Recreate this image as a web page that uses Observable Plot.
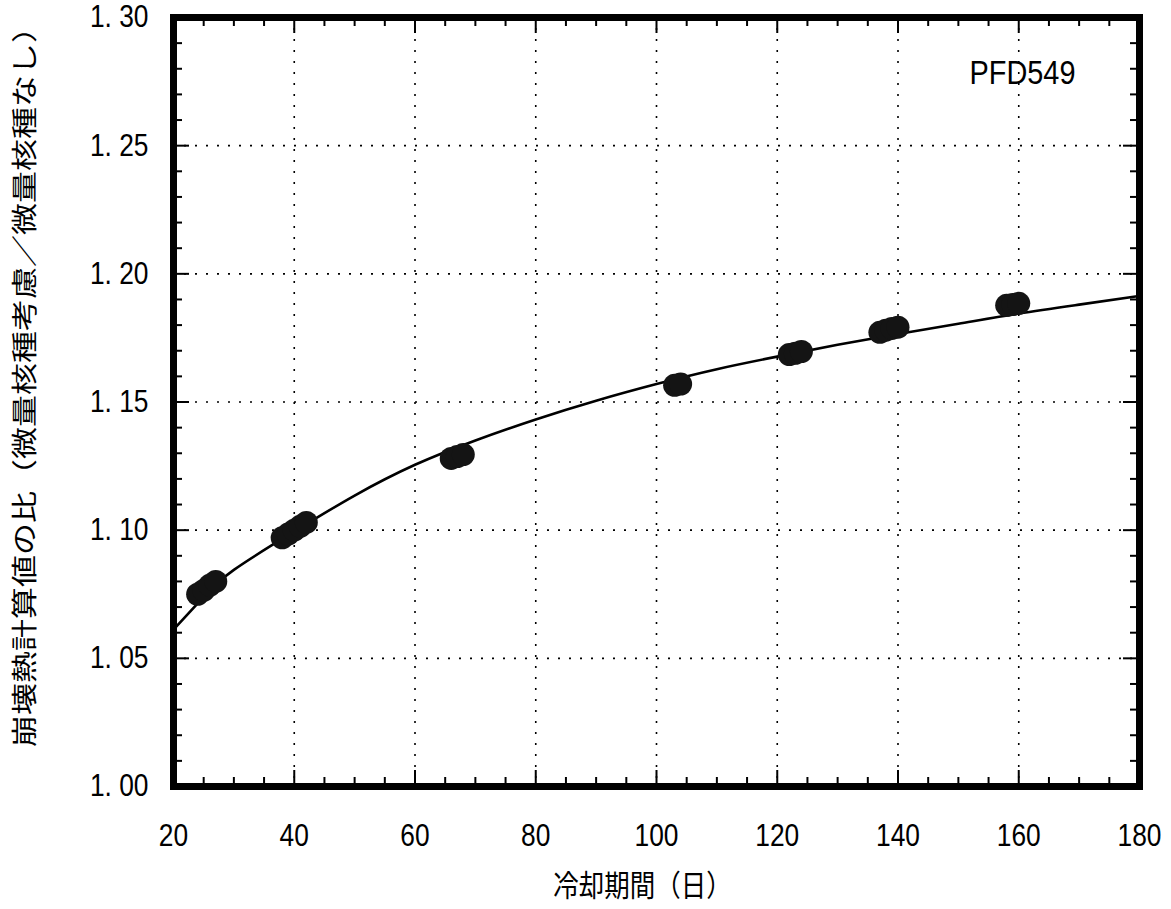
<!DOCTYPE html>
<html><head><meta charset="utf-8">
<script src="https://cdn.jsdelivr.net/npm/d3@7"></script>
<script src="https://cdn.jsdelivr.net/npm/@observablehq/plot@0.6"></script>
<style>body{margin:0;background:#fff}</style>
</head><body><div id="chart"></div>
<script>
const xTicks = [20, 40, 60, 80, 100, 120, 140, 160, 180];
const xGrid = [40, 60, 80, 100, 120, 140, 160];
const xMinor = [25, 30, 35, 45, 50, 55, 65, 70, 75, 85, 90, 95, 105, 110, 115, 125, 130, 135, 145, 150, 155, 165, 170, 175];
const yTicks = [1.00, 1.05, 1.10, 1.15, 1.20, 1.25, 1.30];
const yGrid = [1.05, 1.10, 1.15, 1.20, 1.25];
const yMinor = [1.01, 1.02, 1.03, 1.04, 1.06, 1.07, 1.08, 1.09, 1.11, 1.12, 1.13, 1.14, 1.16, 1.17, 1.18, 1.19, 1.21, 1.22, 1.23, 1.24, 1.26, 1.27, 1.28, 1.29];

const curveX = [20, 25, 30, 40, 50, 60, 70, 80, 90, 100, 110, 120, 130, 140, 150, 160, 170, 180];
const curveY = [1.0612, 1.0740, 1.0845, 1.0995, 1.1135, 1.1255, 1.1350, 1.1432, 1.1505, 1.1570, 1.1628, 1.1677, 1.1723, 1.1765, 1.1805, 1.1845, 1.1880, 1.1914];

const pointX = [24, 25, 26, 27, 38, 39, 40, 41, 42, 66, 67, 68, 103, 104, 122, 123, 124, 137, 138, 139, 140, 158, 159, 160];
const pointY = [1.0750, 1.0765, 1.0785, 1.0800, 1.0970, 1.0985, 1.1000, 1.1015, 1.1030, 1.1280, 1.1287, 1.1295, 1.1565, 1.1570, 1.1685, 1.1690, 1.1697, 1.1772, 1.1780, 1.1787, 1.1792, 1.1877, 1.1880, 1.1885];

const xLabel = "冷却期間（日）";
const yLabel = "崩壊熱計算値の比（微量核種考慮／微量核種なし）";
const seriesLabel = "PFD549";

const curve = curveX.map((x, i) => ({x, y: curveY[i]}));
const points = pointX.map((x, i) => ({x, y: pointY[i]}));

const W = 1171, H = 909, mL = 173, mR = 32, mT = 17, mB = 123;
const innerW = W - mL - mR, innerH = H - mT - mB;
const minorLen = 9, majorLen = 16;
const numFont = "Liberation Sans, Arial, sans-serif";
const jpFont = "Noto Sans CJK JP, sans-serif";

const chart = Plot.plot({
  width: W, height: H,
  marginLeft: mL, marginRight: mR, marginTop: mT, marginBottom: mB,
  x: {domain: [20, 180]},
  y: {domain: [1.0, 1.3]},
  marks: [
    Plot.ruleX(xGrid, {x: d => d, stroke: "black", strokeWidth: 1.6, strokeDasharray: "2,9"}),
    Plot.ruleY(yGrid, {y: d => d, stroke: "black", strokeWidth: 1.6, strokeDasharray: "2,9"}),
    Plot.tickX(xMinor, {x: d => d, insetTop: innerH - minorLen, stroke: "black", strokeWidth: 2}),
    Plot.tickX(xMinor, {x: d => d, insetBottom: innerH - minorLen, stroke: "black", strokeWidth: 2}),
    Plot.tickX(xGrid, {x: d => d, insetTop: innerH - majorLen, stroke: "black", strokeWidth: 2}),
    Plot.tickX(xGrid, {x: d => d, insetBottom: innerH - majorLen, stroke: "black", strokeWidth: 2}),
    Plot.tickY(yMinor, {y: d => d, insetRight: innerW - minorLen, stroke: "black", strokeWidth: 2}),
    Plot.tickY(yMinor, {y: d => d, insetLeft: innerW - minorLen, stroke: "black", strokeWidth: 2}),
    Plot.tickY(yGrid, {y: d => d, insetRight: innerW - majorLen, stroke: "black", strokeWidth: 2}),
    Plot.tickY(yGrid, {y: d => d, insetLeft: innerW - majorLen, stroke: "black", strokeWidth: 2}),
    Plot.frame({stroke: "black", strokeWidth: 7}),
    Plot.axisX({ticks: xTicks, tickSize: 0, tickPadding: 37, fontSize: 31, fontFamily: numFont, fill: "black", tickFormat: d => String(d), label: null}),
    Plot.axisY({ticks: yTicks, tickSize: 0, tickPadding: 25, fontSize: 31, fontFamily: numFont, fill: "black", tickFormat: d => d.toFixed(2).replace(".", ". "), label: null}),
    Plot.line(curve, {x: "x", y: "y", curve: "natural", stroke: "black", strokeWidth: 2.6}),
    Plot.dot(points, {x: "x", y: "y", r: 11.5, fill: "#141414", stroke: "none"}),
    Plot.text([seriesLabel], {frameAnchor: "top-right", text: d => d, dx: -64, dy: 56, fontSize: 34, fontFamily: numFont, textAnchor: "end", lineAnchor: "middle", fill: "black"}),
    Plot.text([xLabel], {frameAnchor: "bottom", text: d => d, dx: -14, dy: 100, fontSize: 30, fontFamily: jpFont, textAnchor: "middle", lineAnchor: "middle", fill: "black"}),
    Plot.text([yLabel], {frameAnchor: "left", text: d => d, dx: -148, dy: -23, rotate: -90, fontSize: 32, fontFamily: jpFont, textAnchor: "middle", lineAnchor: "middle", fill: "black"})
  ]
});

document.getElementById("chart").appendChild(chart);

chart.querySelectorAll("text").forEach(t => {
  let tr = t.getAttribute("transform");
  if (!tr) {
    const x = +(t.getAttribute("x") || 0), y = +(t.getAttribute("y") || 0);
    t.removeAttribute("x"); t.removeAttribute("y");
    tr = `translate(${x},${y})`;
  }
  if (tr.includes("rotate")) t.setAttribute("transform", tr + " scale(1,0.8)");
  else t.setAttribute("transform", tr + " scale(0.85,1)");
});
</script>
</body></html>
